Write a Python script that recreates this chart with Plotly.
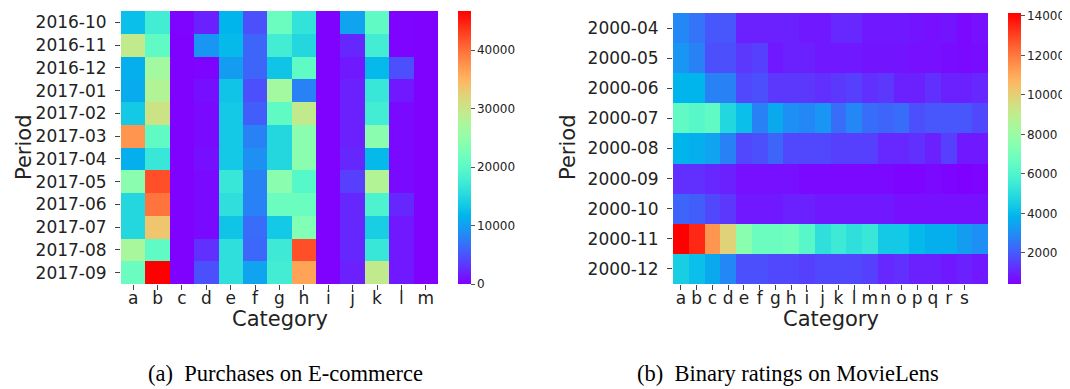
import math
import plotly.graph_objects as go

# ---------------- data ----------------
ecom_periods = ["2016-10", "2016-11", "2016-12", "2017-01", "2017-02", "2017-03",
                "2017-04", "2017-05", "2017-06", "2017-07", "2017-08", "2017-09"]
ecom_categories = list("abcdefghijklm")
ecom_values = [
    [12600, 17700, 200, 1900, 11700, 4700, 21500, 16300, 100, 10300, 20500, 200, 100],
    [29400, 20500, 100, 9300, 12100, 6000, 17700, 15000, 100, 2300, 17700, 200, 100],
    [11200, 26600, 100, 300, 9800, 6000, 13000, 20500, 100, 1400, 12100, 4700, 100],
    [11000, 28000, 100, 900, 13000, 4700, 26600, 7900, 100, 1900, 16800, 1400, 100],
    [13500, 30300, 100, 500, 13500, 5600, 20500, 29400, 100, 1900, 17700, 500, 100],
    [37400, 20500, 100, 500, 13500, 7900, 15000, 24300, 100, 1900, 24300, 500, 100],
    [11200, 16800, 100, 900, 13500, 8900, 15000, 24300, 100, 2300, 12100, 500, 100],
    [24300, 42000, 100, 500, 16800, 7900, 24300, 19600, 100, 3700, 28000, 500, 100],
    [15000, 39700, 100, 500, 15900, 7900, 21500, 21500, 100, 2300, 18700, 2300, 100],
    [15000, 33600, 100, 500, 13000, 6500, 13500, 23400, 100, 2300, 14000, 1400, 100],
    [27100, 20500, 100, 2800, 15900, 6100, 17300, 42000, 100, 2300, 16800, 1400, 100],
    [21500, 46700, 100, 4700, 15900, 10300, 17700, 36400, 100, 1900, 29400, 1400, 100],
]
ecom_cbar_ticks = [0, 10000, 20000, 30000, 40000]

ml_periods = ["2000-04", "2000-05", "2000-06", "2000-07", "2000-08",
              "2000-09", "2000-10", "2000-11", "2000-12"]
ml_column_index = list(range(20))
ml_tick_labels = list("abcdefghijklmnopqrs")
ml_values = [
    [2900, 2490, 1940, 1940, 980, 980, 980, 980, 840, 840, 1120, 1120, 840, 840, 840, 770, 700, 770, 570, 700],
    [3170, 2760, 1800, 1800, 1390, 1530, 840, 980, 980, 840, 840, 840, 770, 770, 770, 700, 700, 640, 570, 640],
    [3860, 3860, 2760, 2760, 1660, 1800, 1390, 1390, 1390, 1250, 1390, 1530, 1250, 1390, 980, 980, 1250, 980, 980, 1120],
    [6470, 6190, 6470, 4820, 4130, 2760, 3590, 3040, 2900, 3170, 2350, 2900, 2350, 2210, 2350, 1800, 1940, 1940, 1940, 1660],
    [3860, 3720, 3450, 2760, 1660, 1800, 2210, 1660, 1660, 1660, 1530, 1530, 1530, 1120, 1120, 1250, 980, 1530, 840, 840],
    [1250, 1250, 1120, 980, 700, 700, 700, 700, 570, 570, 570, 570, 570, 570, 500, 500, 570, 500, 430, 500],
    [2210, 2080, 1660, 1390, 840, 840, 840, 980, 980, 840, 840, 840, 840, 840, 700, 700, 700, 700, 700, 700],
    [14150, 13460, 11410, 9900, 7560, 6740, 6740, 6880, 6190, 5090, 5510, 5090, 5370, 4410, 4410, 4000, 3720, 3720, 3310, 3040],
    [4550, 4130, 3590, 2900, 1800, 1800, 1660, 1660, 1530, 1660, 1660, 1660, 1530, 1120, 1250, 980, 980, 840, 980, 840],
]
ml_cbar_ticks = [2000, 4000, 6000, 8000, 10000, 12000, 14000]

captions = ["(a)  Purchases on E-commerce", "(b)  Binary ratings on MovieLens"]

# ---------------- style ----------------
W, H = 1070, 389
FONT = "DejaVu Sans"
TXT = "#222222"


def rainbow_scale(n=41):
    out = []
    for i in range(n):
        t = i / (n - 1)
        r = min(1.0, abs(2 * t - 0.5))
        g = math.sin(math.pi * t)
        b = math.cos(math.pi * t / 2)
        out.append([t, f"rgb({round(r*255)},{round(g*255)},{round(b*255)})"])
    return out


CS = rainbow_scale()


def px(x):
    return x / W


def py(y):
    return 1 - y / H


# plot-area rectangles (pixels)
L1 = (113, 430, 3, 276)
L2 = (665, 980, 5, 276)

fig = go.Figure()

fig.add_trace(go.Heatmap(
    z=ecom_values, x=ecom_categories, y=ecom_periods,
    colorscale=CS, zmin=0, zmax=46700, xaxis="x", yaxis="y",
    hoverinfo="skip",
    colorbar=dict(
        x=px(450), xanchor="left", y=py((L1[2] + L1[3]) / 2), yanchor="middle",
        len=(L1[3] - L1[2]) / H, lenmode="fraction", thickness=13,
        xpad=0, ypad=0, outlinewidth=0, ticks="outside", ticklen=4,
        tickcolor="#555", tickvals=ecom_cbar_ticks, tickformat="d",
        tickfont=dict(family=FONT, size=12, color=TXT),
    ),
))

fig.add_trace(go.Heatmap(
    z=ml_values, x=ml_column_index, y=ml_periods,
    colorscale=CS, zmin=430, zmax=14150, xaxis="x2", yaxis="y2",
    hoverinfo="skip",
    colorbar=dict(
        x=px(1000), xanchor="left", y=py((L2[2] + L2[3]) / 2), yanchor="middle",
        len=(L2[3] - L2[2]) / H, lenmode="fraction", thickness=13,
        xpad=0, ypad=0, outlinewidth=0, ticks="outside", ticklen=4,
        tickcolor="#555", tickvals=ml_cbar_ticks, tickformat="d",
        tickfont=dict(family=FONT, size=12, color=TXT),
    ),
))

axis_common = dict(showgrid=False, zeroline=False, showline=False,
                   ticks="outside", ticklen=5, tickcolor="#444", tickwidth=1,
                   tickfont=dict(family=FONT, size=17, color=TXT))

fig.update_layout(
    width=W, height=H, margin=dict(l=0, r=0, t=0, b=0),
    paper_bgcolor="white", plot_bgcolor="white",
    xaxis=dict(domain=[px(L1[0]), px(L1[1])], anchor="y", type="category",
               ticklabelstandoff=-6, **axis_common),
    yaxis=dict(domain=[py(L1[3]), py(L1[2])], anchor="x", type="category",
               autorange="reversed", ticklabelstandoff=5, **axis_common),
    xaxis2=dict(domain=[px(L2[0]), px(L2[1])], anchor="y2",
                tickvals=list(range(len(ml_tick_labels))), ticktext=ml_tick_labels,
                range=[-0.5, len(ml_column_index) - 0.5], ticklabelstandoff=-6,
                **axis_common),
    yaxis2=dict(domain=[py(L2[3]), py(L2[2])], anchor="x2", type="category",
                autorange="reversed", ticklabelstandoff=5, **axis_common),
)

ann = []
# axis titles
ann.append(dict(text="Category", x=px((L1[0] + L1[1]) / 2), y=py(311)))
ann.append(dict(text="Category", x=px((L2[0] + L2[1]) / 2), y=py(311)))
ann.append(dict(text="Period", x=px(16), y=py(140), textangle=-90))
ann.append(dict(text="Period", x=px(560), y=py(140), textangle=-90))
for a in ann:
    a.update(xref="paper", yref="paper", showarrow=False, xanchor="center",
             yanchor="middle", font=dict(family=FONT, size=21, color=TXT))
    fig.add_annotation(**a)

fig.add_annotation(text=captions[0], x=px(277), y=py(365), xref="paper", yref="paper",
                   showarrow=False, xanchor="center", yanchor="middle",
                   font=dict(family="Liberation Serif", size=22.5, color="black"))
fig.add_annotation(text=captions[1], x=px(780), y=py(365), xref="paper", yref="paper",
                   showarrow=False, xanchor="center", yanchor="middle",
                   font=dict(family="Liberation Serif", size=22.5, color="black"))

fig.write_html("out.html")
